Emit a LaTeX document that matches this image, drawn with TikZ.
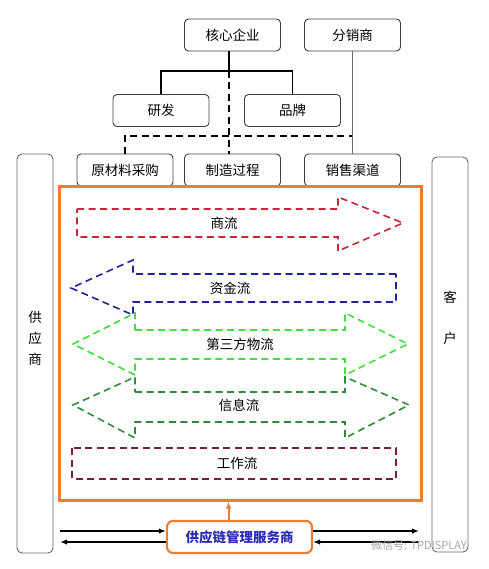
\documentclass[tikz,border=0pt]{standalone}
\usepackage{fontspec}
\setmainfont{Noto Sans CJK SC}
\usetikzlibrary{arrows.meta}

\definecolor{boxgray}{HTML}{404040}
\definecolor{sidegray}{HTML}{6A6A6A}
\definecolor{frameorange}{HTML}{ED7D31}
\definecolor{trade}{HTML}{C8283A}
\definecolor{money}{HTML}{22229A}
\definecolor{logistics}{HTML}{3FE03F}
\definecolor{info}{HTML}{2E8B3A}
\definecolor{work}{HTML}{7A1F3A}
\definecolor{servicetext}{HTML}{2B2BB5}

\begin{document}
\begin{tikzpicture}[
  x = 1pt, y = -1pt,
  >= {Latex[length = 7pt, width = 5.5pt]},
  box/.style = {
    shape = rectangle,
    rounded corners = 4pt,
    draw = boxgray,
    line width = 0.9pt,
    minimum width = 96pt,
    minimum height = 32pt,
    inner sep = 0pt,
    font = \fontsize{13.5}{16}\selectfont,
  },
  sidebox/.style = {
    shape = rectangle,
    rounded corners = 5pt,
    draw = sidegray,
    line width = 0.9pt,
    minimum width = 36pt,
    inner sep = 0pt,
  },
  flow/.style = {
    line width = 1.6pt,
    dash pattern = on 7pt off 4.5pt,
  },
  flowtext/.style = {
    font = \fontsize{13.5}{16}\selectfont,
    inner sep = 1pt,
  },
  tree/.style = { line width = 1.6pt },
]
  \useasboundingbox (0, 0) rectangle (488, 569);

  % company structure
  \node[box] (hexin) at (232.5, 35) {核心企业};
  \node[box] (fenxiao) at (352.5, 35) {分销商};
  \node[box] (yanfa) at (161, 110.5) {研发};
  \node[box] (pinpai) at (292.5, 110.5) {品牌};
  \node[box] (yuancai) at (125, 170) {原材料采购};
  \node[box] (zhizao) at (232.5, 170) {制造过程};
  \node[box] (xiaoshou) at (352.5, 170) {销售渠道};

  \coordinate (split) at (229, 71);
  \coordinate (junc) at (352.5, 136);

  \draw[tree] (hexin.south -| split) -- (split);
  \draw[tree] (yanfa.north) |- (split) -| (pinpai.north);
  \draw[tree, dash pattern = on 7pt off 4.5pt] (split) -- (split |- zhizao.north);
  \draw[tree, dash pattern = on 7pt off 4.5pt] (yuancai.north) |- (junc);
  \draw[sidegray, line width = 1pt] (fenxiao) -- (xiaoshou);

  % both ends of the chain
  \node[sidebox, minimum height = 399pt] (gongying) at (35, 353.5) {};
  \node[sidebox, minimum height = 395pt] (kehu) at (450, 354.5) {};
  \node[flowtext, align = center, font = \fontsize{13.5}{21}\selectfont]
    (gongyingtext) at (35, 338) {供\\应\\商};
  \node[flowtext, align = center, font = \fontsize{13.5}{41}\selectfont]
    (kehutext) at (450, 318) {客\\户};

  % the flows
  \node[draw = frameorange, line width = 3pt, minimum width = 362pt,
        minimum height = 313pt, inner sep = 0pt] (frame) at (240, 343.5) {};

  \draw[flow, trade] (77, 209) -- (338, 209) -- (338, 197) -- (403, 223)
    -- (338, 251) -- (338, 237) -- (77, 237) -- cycle;
  \node[flowtext] (shangliu) at (224, 223) {商流};

  \draw[flow, money] (396, 274) -- (133, 274) -- (133, 260) -- (71, 288)
    -- (133, 315) -- (133, 302) -- (396, 302) -- cycle;
  \node[flowtext] (zijin) at (230, 288) {资金流};

  \draw[flow, logistics] (135, 330) -- (345, 330) -- (345, 313) -- (408, 344)
    -- (345, 375) -- (345, 359) -- (135, 359) -- (135, 375) -- (73, 344)
    -- (135, 313) -- cycle;
  \node[flowtext] (wuliu) at (240, 344) {第三方物流};

  \draw[flow, info] (135, 392) -- (345, 392) -- (345, 377) -- (409, 405)
    -- (345, 438) -- (345, 422) -- (135, 422) -- (135, 438) -- (73, 405)
    -- (135, 377) -- cycle;
  \node[flowtext] (xinxi) at (239, 405) {信息流};

  \draw[flow, work] (72, 448) rectangle (396, 479);
  \node[flowtext] (gongzuo) at (237, 463) {工作流};

  % service provider
  \node[box, draw = frameorange, line width = 2.2pt, rounded corners = 6pt,
        minimum width = 145pt, text = servicetext,
        font = \fontsize{13.5}{16}\selectfont\bfseries]
    (service) at (239.5, 537) {供应链管理服务商};

  \draw[->, frameorange, line width = 2pt]
    ([xshift = -11pt]service.north) -- ([xshift = -11pt]service.north |- frame.south);

  \coordinate (inL) at (60, 531);
  \coordinate (outR) at (419, 531);
  \coordinate (backL) at (60, 542);
  \coordinate (backR) at (419, 542);

  \begin{scope}[every path/.style = { line width = 1.4pt }]
    \draw[->] (inL) -- (inL -| service.west);
    \draw[->] (service.east |- outR) -- (outR);
    \draw[->] (backL -| service.west) -- (backL);
    \draw[->] (backR) -- (backR -| service.east);
  \end{scope}

  \node[text = black!35, font = \fontsize{11}{13}\selectfont, inner sep = 0pt]
    (mark) at (419, 545) {微信号: TPDISPLAY};
\end{tikzpicture}
\end{document}
